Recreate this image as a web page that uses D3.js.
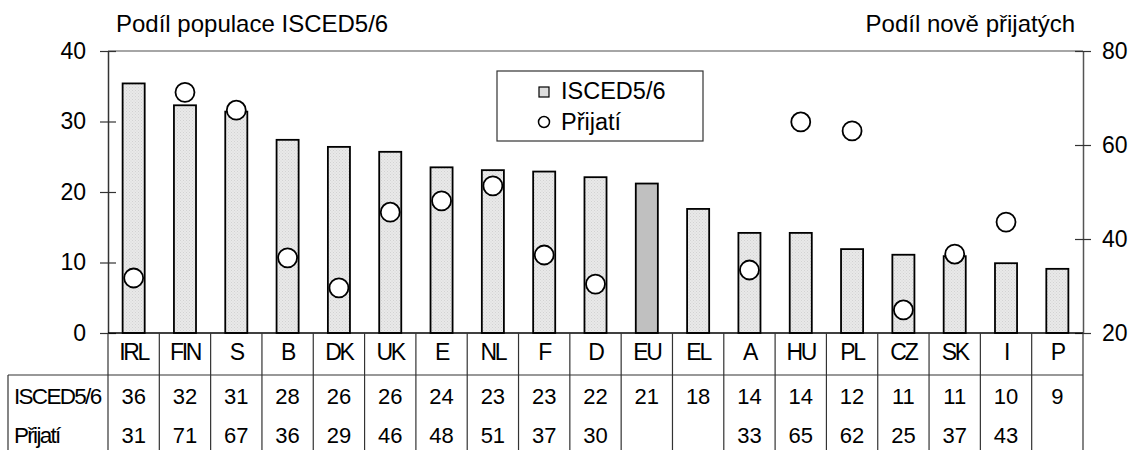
<!DOCTYPE html>
<html><head><meta charset="utf-8">
<script src="https://cdn.jsdelivr.net/npm/d3@7"></script>
<style>body{margin:0;background:#fff}svg{display:block;font-family:"Liberation Sans",Arial,sans-serif}</style>
</head><body><svg id="c" width="1132" height="450"></svg>
<script>
const categories=["IRL","FIN","S","B","DK","UK","E","NL","F","D","EU","EL","A","HU","PL","CZ","SK","I","P"];
const iscedValues=[35.4,32.3,31.4,27.4,26.4,25.7,23.5,23.1,22.9,22.1,21.2,17.6,14.2,14.2,11.9,11.1,10.9,9.9,9.1];
const prijatiValues=[31.7,71.2,67.4,36,29.6,45.7,48.1,51.3,36.6,30.4,null,null,33.4,64.9,63,24.9,36.8,43.6,null];
const iscedLabels=["36","32","31","28","26","26","24","23","23","22","21","18","14","14","12","11","11","10","9"];
const prijatiLabels=["31","71","67","36","29","46","48","51","37","30","","","33","65","62","25","37","43",""];
const leftTicks=[0,10,20,30,40];
const rightTicks=[20,40,60,80];
const rowLabels=["ISCED5/6","Přijatí"];
const leftTitle="Podíl populace ISCED5/6";
const rightTitle="Podíl nově přijatých";
const highlight="EU";

const svg=d3.select("#c");
const L=108,R=1083,T=51,B=333;
const x=d3.scaleBand().domain(categories).range([L,R]).paddingInner(0.57).paddingOuter(0.285);
const xc=d3.scaleBand().domain(categories).range([L,R]).padding(0);
const yL=d3.scaleLinear().domain([0,40]).range([B,T]);
const yR=d3.scaleLinear().domain([20,80]).range([B,T]);

const defs=svg.append("defs");
const pat=defs.append("pattern").attr("id","dots").attr("width",3).attr("height",3).attr("patternUnits","userSpaceOnUse");
pat.append("rect").attr("width",3).attr("height",3).attr("fill","#e9e9e9");
pat.append("rect").attr("width",1).attr("height",1).attr("fill","#d2d2d2");
pat.append("rect").attr("x",1.5).attr("y",1.5).attr("width",1).attr("height",1).attr("fill","#d8d8d8");

svg.append("line").attr("x1",L).attr("x2",R).attr("y1",T).attr("y2",T).attr("stroke","#888").attr("stroke-width",1.5);

svg.append("g").selectAll("rect").data(categories).join("rect")
  .attr("x",d=>x(d)).attr("width",x.bandwidth())
  .attr("y",(d,i)=>yL(iscedValues[i])).attr("height",(d,i)=>B-yL(iscedValues[i]))
  .attr("fill",d=>d===highlight?"#c0c0c0":"url(#dots)")
  .attr("stroke","#000").attr("stroke-width",1.8);

const gl=svg.append("g").attr("transform",`translate(${L},0)`)
  .call(d3.axisLeft(yL).tickValues(leftTicks).tickSize(8).tickSizeOuter(0).tickPadding(14));
gl.select(".domain").attr("stroke","#333").attr("stroke-width",1.5);
gl.selectAll(".tick line").attr("x1",8).attr("stroke","#333").attr("stroke-width",1.2);
gl.selectAll(".tick text").attr("font-size",23).attr("fill","#000").attr("font-family","Liberation Sans, Arial, sans-serif");

const gr=svg.append("g").attr("transform",`translate(${R},0)`)
  .call(d3.axisRight(yR).tickValues(rightTicks).tickSize(8).tickSizeOuter(0).tickPadding(11));
gr.select(".domain").attr("stroke","#555").attr("stroke-width",1.5);
gr.selectAll(".tick line").attr("x1",-8).attr("stroke","#333").attr("stroke-width",1.2);
gr.selectAll(".tick text").attr("font-size",23).attr("fill","#000").attr("font-family","Liberation Sans, Arial, sans-serif");

svg.append("line").attr("x1",L).attr("x2",R).attr("y1",B).attr("y2",B).attr("stroke","#000").attr("stroke-width",1.5);

svg.append("g").selectAll("circle").data(categories.filter((d,i)=>prijatiValues[i]!=null)).join("circle")
  .attr("cx",d=>x(d)+x.bandwidth()/2)
  .attr("cy",d=>yR(prijatiValues[categories.indexOf(d)]))
  .attr("r",9.5).attr("fill","#fff").attr("stroke","#000").attr("stroke-width",1.8);

svg.append("text").attr("x",116).attr("y",32).attr("font-size",24).text(leftTitle);
svg.append("text").attr("x",1075).attr("y",32).attr("font-size",24).attr("text-anchor","end").text(rightTitle);

const lg=svg.append("g");
lg.append("rect").attr("x",497).attr("y",71).attr("width",206).attr("height",70).attr("fill","#fff").attr("stroke","#333").attr("stroke-width",1.2);
lg.append("rect").attr("x",539).attr("y",87).attr("width",10).attr("height",10).attr("fill","#ddd").attr("stroke","#000").attr("stroke-width",1.2);
lg.append("circle").attr("cx",544).attr("cy",122).attr("r",5.5).attr("fill","#fff").attr("stroke","#000").attr("stroke-width",1.5);
lg.append("text").attr("x",561).attr("y",99).attr("font-size",23.5).text(rowLabels[0]);
lg.append("text").attr("x",561).attr("y",130).attr("font-size",23.5).text(rowLabels[1]);

const tl=svg.append("g").attr("stroke","#333").attr("stroke-width",1.2);
const bounds=categories.map(d=>xc(d)).concat([R]);
tl.selectAll("line.v").data(bounds).join("line").attr("class","v")
  .attr("x1",d=>d).attr("x2",d=>d).attr("y1",B).attr("y2",450);
tl.append("line").attr("x1",8).attr("x2",8).attr("y1",375).attr("y2",450);
tl.append("line").attr("x1",8).attr("x2",R).attr("y1",375).attr("y2",375);

const tt=svg.append("g").attr("font-size",22);
tt.selectAll("text.cat").data(categories).join("text").attr("class","cat")
  .attr("x",d=>xc(d)+xc.bandwidth()/2).attr("y",360).attr("text-anchor","middle").attr("font-size",23).attr("letter-spacing","-2.3px").text(d=>d);
tt.selectAll("text.v1").data(iscedLabels).join("text").attr("class","v1")
  .attr("x",(d,i)=>xc(categories[i])+xc.bandwidth()/2).attr("y",404).attr("text-anchor","middle").text(d=>d);
tt.selectAll("text.v2").data(prijatiLabels).join("text").attr("class","v2")
  .attr("x",(d,i)=>xc(categories[i])+xc.bandwidth()/2).attr("y",443).attr("text-anchor","middle").text(d=>d);
tt.append("text").attr("x",14).attr("y",404).attr("font-size",22.5).attr("letter-spacing","-1.7px").text(rowLabels[0]);
tt.append("text").attr("x",14).attr("y",443).attr("font-size",22.5).attr("letter-spacing","-1.7px").text(rowLabels[1]);
</script></body></html>
